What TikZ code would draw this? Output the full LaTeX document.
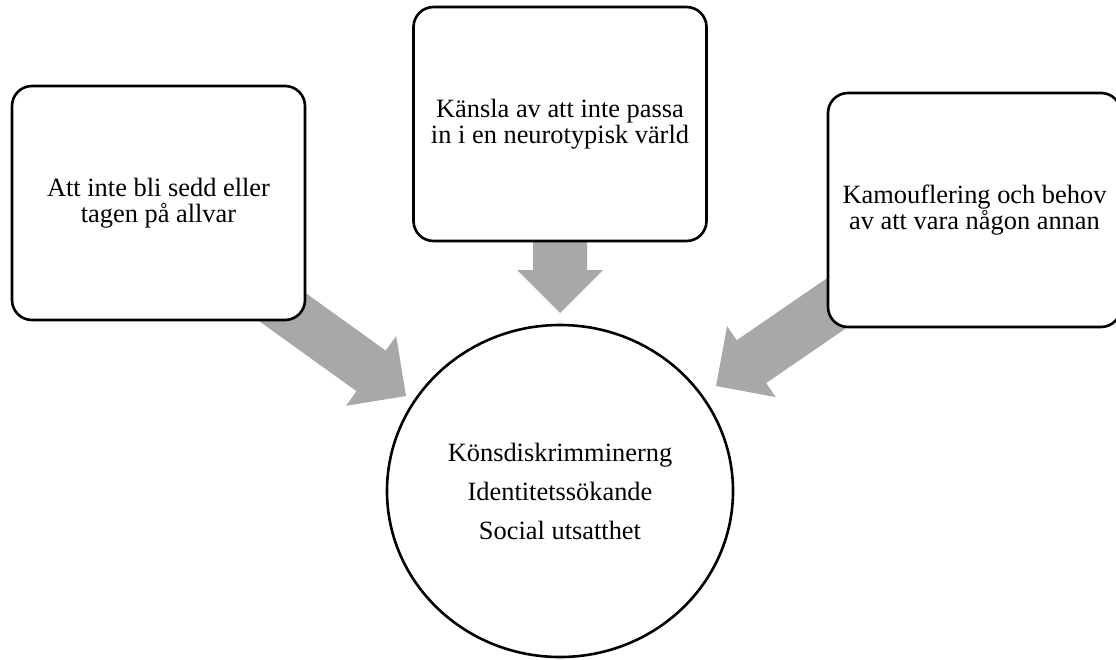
\documentclass[tikz,border=0pt]{standalone}
\usepackage{fontspec}
\setmainfont{Liberation Serif}
\usetikzlibrary{calc,shapes.geometric}
\definecolor{arrowgray}{RGB}{168,168,168}
\newcommand{\blockarrow}[4]{% #1 start, #2 tip, #3 half shaft width, #4 half head width (= head length)
  \fill[arrowgray]
    ($(#1)!#3!90:(#2)$) --
    ($($(#2)!#4!(#1)$)!#3!-90:(#1)$) --
    ($($(#2)!#4!(#1)$)!#4!-90:(#1)$) --
    (#2) --
    ($($(#2)!#4!(#1)$)!#4!90:(#1)$) --
    ($($(#2)!#4!(#1)$)!#3!90:(#1)$) --
    ($(#1)!#3!-90:(#2)$) -- cycle;
}
\begin{document}
\begin{tikzpicture}[x=1pt,y=-1pt,
  txt/.style={font=\fontsize{26.4}{26}\selectfont, align=center},
  box/.style={txt, draw=black, line width=2.6pt, fill=white, rounded corners=20pt,
    rectangle, minimum width=293, minimum height=234, inner sep=0pt},
  hub/.style={font=\fontsize{26.4}{39}\selectfont, align=center, ellipse, draw=black,
    line width=2.6pt, fill=white, minimum width=346, minimum height=332, inner sep=0pt}]
\useasboundingbox (0,0) rectangle (1116,659);
% arrow end points
\coordinate (s1) at (259.9,290.9);
\coordinate (t1) at (406,396);
\coordinate (s2) at (560,200);
\coordinate (t2) at (560,313);
\coordinate (s3) at (880.8,272.8);
\coordinate (t3) at (716,386);
\blockarrow{s1}{t1}{25pt}{43pt}
\blockarrow{s2}{t2}{27pt}{43pt}
\blockarrow{s3}{t3}{26pt}{43pt}
% boxes
\node[box] (left) at (158.5,203) {Att inte bli sedd eller\\tagen på allvar};
\node[box] (mid) at (560,124) {Känsla av att inte passa\\in i en neurotypisk värld};
\node[box] (right) at (974.5,210) {Kamouflering och behov\\av att vara någon annan};
\node[hub] (hub) at (560,491) {Könsdiskrimminerng\\Identitetssökande\\Social utsatthet};
\end{tikzpicture}
\end{document}
